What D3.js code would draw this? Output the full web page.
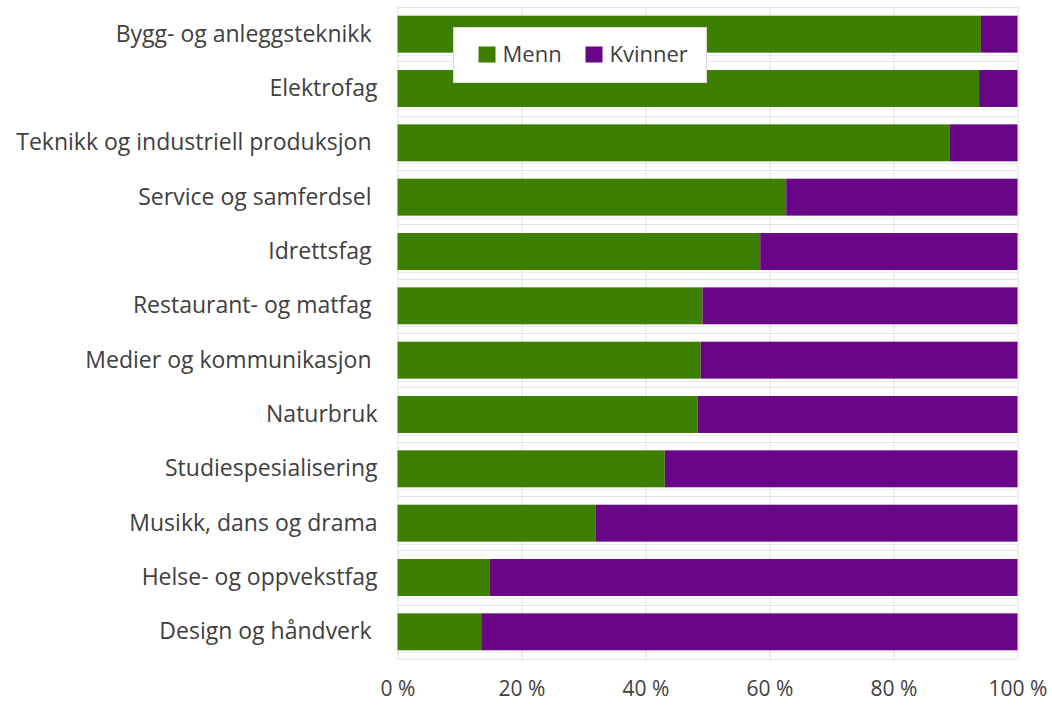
<!DOCTYPE html>
<html>
<head>
<meta charset="utf-8">
<script src="https://cdn.jsdelivr.net/npm/d3@7"></script>
<style>
  body { margin: 0; background: #fff; }
  svg { display: block; }
  text { font-family: "Open Sans", sans-serif; fill: #404040; white-space: pre; }
</style>
</head>
<body>
<div id="chart"></div>
<script>
// data (share of pupils, per cent)
const categories = [
    "Bygg- og anleggsteknikk ",
    "Elektrofag",
    "Teknikk og industriell produksjon ",
    "Service og samferdsel ",
    "Idrettsfag ",
    "Restaurant- og matfag ",
    "Medier og kommunikasjon ",
    "Naturbruk",
    "Studiespesialisering",
    "Musikk, dans og drama",
    "Helse- og oppvekstfag",
    "Design og håndverk "
];
const menn = [94.1, 93.8, 89.1, 62.7, 58.5, 49.2, 48.9, 48.4, 43.1, 32.0, 14.9, 13.5];
const kvinner = menn.map(v => 100 - v);
const seriesNames = ["Menn", "Kvinner"];
const xTicks = [0, 20, 40, 60, 80, 100];

const colors = {Menn: "#3d7f00", Kvinner: "#690687"};

const W = 1052, H = 706;
const margin = {top: 7, right: 34.5, bottom: 47, left: 397.5};
const width = W - margin.left - margin.right;
const height = H - margin.top - margin.bottom;

const svg = d3.select("#chart").append("svg")
    .attr("width", W)
    .attr("height", H);

const g = svg.append("g")
    .attr("transform", "translate(" + margin.left + "," + margin.top + ")");

const x = d3.scaleLinear().domain([0, 100]).range([0, width]);
const y = d3.scaleBand().domain(categories).range([0, height])
    .paddingInner(0.32).paddingOuter(0.16);

// horizontal grid lines at category boundaries
const step = y.step();
const bounds = d3.range(categories.length + 1).map(i => i * step);
g.selectAll(".hgrid")
    .data(bounds)
    .enter().append("line")
    .attr("class", "hgrid")
    .attr("x1", 0).attr("x2", width)
    .attr("y1", d => Math.round(d) + 0.5)
    .attr("y2", d => Math.round(d) + 0.5)
    .style("stroke", "#e2e2e2");

// faint line right below each bar
g.selectAll(".hsub")
    .data(categories)
    .enter().append("line")
    .attr("class", "hsub")
    .attr("x1", 0).attr("x2", width)
    .attr("y1", d => Math.round(y(d) + y.bandwidth() + 2) + 0.5)
    .attr("y2", d => Math.round(y(d) + y.bandwidth() + 2) + 0.5)
    .style("stroke", "#ececec");

// vertical grid lines
g.selectAll(".vgrid")
    .data(xTicks)
    .enter().append("line")
    .attr("class", "vgrid")
    .attr("x1", d => Math.round(x(d)) + 0.5)
    .attr("x2", d => Math.round(x(d)) + 0.5)
    .attr("y1", 0).attr("y2", height)
    .style("stroke", "#dedede");

// stacked bars
const rows = categories.map((c, i) => ({cat: c, Menn: menn[i], Kvinner: kvinner[i]}));
const stacked = d3.stack().keys(seriesNames)(rows);

g.selectAll(".series")
    .data(stacked)
    .enter().append("g")
    .attr("class", "series")
    .style("fill", d => colors[d.key])
    .selectAll("rect")
    .data(d => d)
    .enter().append("rect")
    .attr("x", d => x(d[0]))
    .attr("width", d => x(d[1]) - x(d[0]))
    .attr("y", d => y(d.data.cat))
    .attr("height", y.bandwidth());

// y axis labels
const yAxis = d3.axisLeft(y).tickSize(0).tickPadding(20);
g.append("g")
    .attr("class", "y axis")
    .call(yAxis)
    .attr("font-family", null)
    .attr("font-size", null)
    .call(a => a.select(".domain").remove())
    .selectAll("text")
    .style("font-size", "23px");

// x axis labels
const xAxis = d3.axisBottom(x)
    .tickValues(xTicks)
    .tickSize(0)
    .tickPadding(22)
    .tickFormat(d => d + " %");
g.append("g")
    .attr("class", "x axis")
    .attr("transform", "translate(0," + height + ")")
    .call(xAxis)
    .attr("font-family", null)
    .attr("font-size", null)
    .call(a => a.select(".domain").remove())
    .selectAll("text")
    .style("font-size", "21px");

// legend
const legend = svg.append("g").attr("transform", "translate(453.5,27.5)");
legend.append("rect")
    .attr("width", 253).attr("height", 55)
    .style("fill", "#fff")
    .style("stroke", "#d9d9d9");
const items = legend.selectAll(".item")
    .data(seriesNames)
    .enter().append("g")
    .attr("class", "item")
    .attr("transform", (d, i) => "translate(" + (25 + i * 107) + ",19)");
items.append("rect")
    .attr("width", 17).attr("height", 16)
    .style("fill", d => colors[d]);
items.append("text")
    .attr("x", 24).attr("y", 15)
    .style("font-size", "22px")
    .text(d => d);
</script>
</body>
</html>
